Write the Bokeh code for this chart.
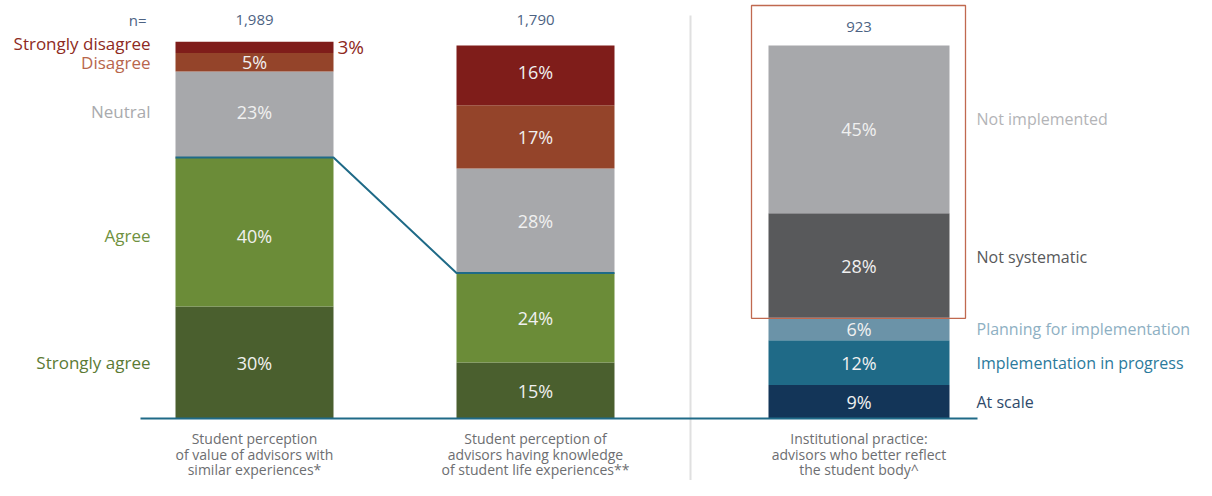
from bokeh.plotting import figure
from bokeh.models import ColumnDataSource, Range1d
from bokeh.core.properties import value
from bokeh.embed import file_html
from bokeh.resources import INLINE

# ---------------- data ----------------
categories = [
    ["Student perception", "of value of advisors with", "similar experiences*"],
    ["Student perception of", "advisors having knowledge", "of student life experiences**"],
    ["Institutional practice:", "advisors who better reflect", "the student body^"],
]
n_values = ["1,989", "1,790", "923"]

perception_levels = ["Strongly agree", "Agree", "Neutral", "Disagree", "Strongly disagree"]
value_of_advisors = [30, 40, 23, 5, 3]
knowledge_of_life = [15, 24, 28, 17, 16]

practice_levels = ["At scale", "Implementation in progress", "Planning for implementation",
                   "Not systematic", "Not implemented"]
institutional_practice = [9, 12, 6, 28, 45]

# ---------------- styling / layout ----------------
FONT = value("Open Sans")
PX = 3.73          # pixels per percentage point
BASE = 421         # baseline, pixels from top (reference coordinates)
TOP = 3            # reference pixel row shown at top of canvas
perc_colors = ["#4a5f2e", "#6b8c38", "#a7a8ab", "#94442a", "#7f1d1a"]
perc_label_colors = ["#5b7a34", "#6f9140", "#a9aaad", "#b8664c", "#8e2a22"]
prac_colors = ["#133558", "#1f6a87", "#6b93a8", "#58595b", "#a7a8ab"]
prac_label_colors = ["#2f4a6b", "#2b7a9c", "#8eb0c3", "#58595b", "#b3b4b7"]
centers = [254, 535, 858.5]
widths = [158, 158, 181]
TEAL = "#1f6a87"


def py(pix):
    """reference pixel row (from top) -> data y"""
    return (BASE - pix) / PX


p = figure(width=1196, height=480, x_range=Range1d(0, 1196),
           y_range=Range1d(py(TOP + 480), py(TOP)), output_backend="svg",
           toolbar_location=None, x_axis_type=None, y_axis_type=None,
           min_border=0, min_border_left=0, min_border_right=0,
           min_border_top=0, min_border_bottom=0)
p.grid.visible = False
p.outline_line_color = None
p.background_fill_color = "white"
p.border_fill_color = "white"


def stack(vals):
    bottoms, tops, acc = [], [], 0
    for v in vals:
        bottoms.append(acc)
        acc += v
        tops.append(acc)
    return bottoms, tops


series = [(value_of_advisors, perc_colors), (knowledge_of_life, perc_colors),
          (institutional_practice, prac_colors)]

for i, (vals, cols) in enumerate(series):
    b, t = stack(vals)
    src = ColumnDataSource(dict(
        x=[centers[i]] * len(vals), bottom=b, top=t, color=cols))
    p.vbar(x="x", width=widths[i], bottom="bottom", top="top", fill_color="color",
           line_color=None, source=src)

# value labels inside bars
val_off = {0: [0, -3.5, 3, 0, None], 1: [0, 0, 0, 0, 3], 2: [0, 0, 0, 0, 0]}
for i, (vals, cols) in enumerate(series):
    b, t = stack(vals)
    xs, ys, labs = [], [], []
    for j, v in enumerate(vals):
        off = val_off[i][j]
        if off is None:
            continue
        xs.append(centers[i])
        ys.append((b[j] + t[j]) / 2 + off / PX)
        labs.append(f"{v}%")
    p.text(x=xs, y=ys, text=labs, text_align="center", text_baseline="middle",
           text_font=FONT, text_font_size="18px", text_color="#f0f0f0")

# small "3%" outside bar 1
b1, t1 = stack(value_of_advisors)
p.text(x=[centers[0] + widths[0] / 2 + 4], y=[(b1[4] + t1[4]) / 2],
       text=[f"{value_of_advisors[4]}%"], text_align="left", text_baseline="middle",
       text_font=FONT, text_font_size="19px", text_color="#8e2a22")

# left-side perception labels
left_off = [0, -3.5, 3, 0, 4]
p.text(x=[150] * 5, y=[(bb + tt) / 2 + o / PX for bb, tt, o in zip(b1, t1, left_off)],
       text=perception_levels, text_align="right", text_baseline="middle",
       text_font=FONT, text_font_size="17px", text_color=perc_label_colors)

# right-side practice labels
b3, t3 = stack(institutional_practice)
right_off = [0, 0, 0, 9, 10]
p.text(x=[976] * 5, y=[(bb + tt) / 2 + o / PX for bb, tt, o in zip(b3, t3, right_off)],
       text=practice_levels, text_align="left", text_baseline="middle",
       text_font=FONT, text_font_size="16px", text_color=prac_label_colors)

# n= labels
p.text(x=[146], y=[py(22)], text=["n="], text_align="right", text_baseline="middle",
       text_font=FONT, text_font_size="15px", text_color="#4d6383")
p.text(x=centers, y=[py(22), py(22), py(29)],
       text=n_values, text_align="center", text_baseline="middle",
       text_font=FONT, text_font_size="15px", text_color="#4d6383")

# category labels below
for i, lines in enumerate(categories):
    p.text(x=[centers[i]] * 3, y=[py(441), py(457), py(472)], text=lines,
           text_align="center", text_baseline="middle", text_font=FONT,
           text_font_size="14px", text_color="#6d6e71")

# separator
p.segment(x0=[690], y0=[py(18)], x1=[690], y1=[py(492)], line_color="#e0e0e0",
          line_width=2)

# connector between agree boundaries
b2, t2 = stack(knowledge_of_life)
agree1 = t1[1]
agree2 = t2[1]
p.line(x=[centers[0] - widths[0] / 2, centers[0] + widths[0] / 2,
          centers[1] - widths[1] / 2, centers[1] + widths[1] / 2],
       y=[agree1, agree1, agree2, agree2], line_color=TEAL, line_width=2)

# baseline
p.segment(x0=[140], y0=[0], x1=[977], y1=[0], line_color=TEAL, line_width=2)

# highlight box around not implemented / not systematic
p.quad(left=[751], right=[965], bottom=[b3[3] - 0.15], top=[py(8)],
       fill_color=None, line_color="#c0694f", line_width=1.3)

open("out.html", "w").write(file_html(p, INLINE))
